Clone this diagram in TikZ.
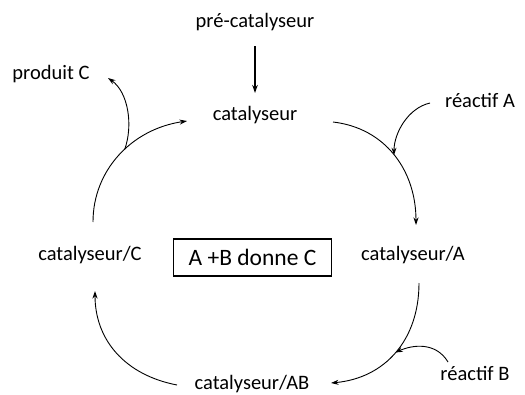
\documentclass[tikz,border=0pt]{standalone}
\usepackage{fontspec}
\setmainfont{Carlito}
\usetikzlibrary{arrows.meta,calc}
\begin{document}
\begin{tikzpicture}[x=1pt,y=-1pt,
  lbl/.style={font=\fontsize{20.5}{23}\selectfont, inner sep=0pt, anchor=center},
  arr/.style={line width=0.9pt, -{Stealth[length=7.5pt,width=5pt]}},
  thickarr/.style={line width=1.6pt, -{Stealth[length=8pt,width=5.5pt]}}]
\useasboundingbox (0,0) rectangle (525,394);
\node[lbl] (pre) at (255,22) {pré-catalyseur};
\node[lbl] (cat) at (255,115) {catalyseur};
\node[lbl] (prodC) at (51,74) {produit C};
\node[lbl] (reacA) at (480,100) {réactif A};
\node[lbl] (catC) at (90,255) {catalyseur/C};
\node[lbl, font=\fontsize{23.5}{26}\selectfont, draw, line width=1.1pt, minimum width=158pt, minimum height=37pt] (box) at (252.5,257.5) {A +B donne C};
\node[lbl] (catA) at (413,255) {catalyseur/A};
\node[lbl] (catAB) at (252,384) {catalyseur/AB};
\node[lbl] (reacB) at (475,373) {réactif B};
% pre-catalyst arrow
\draw[thickarr] ([shift={(0,24)}]pre.center) -- ([shift={(0,-22)}]cat.center);
% cycle arcs
\draw[arr] ([shift={(78,7)}]cat.center) .. controls +(52,6) and +(0,-55) .. ([shift={(3,-30)}]catA.center)
  coordinate[pos=0.5] (ja);
\draw[arr] ([shift={(6,28)}]catA.center) .. controls +(0,57) and +(54,-5) .. ([shift={(79,-1)}]catAB.center)
  coordinate[pos=0.5] (jb);
\draw[arr] ([shift={(-75,1)}]catAB.center) .. controls +(-52,-10) and +(0,49) .. ([shift={(5,36)}]catC.center);
\draw[arr] ([shift={(3,-33)}]catC.center) .. controls +(0,-52) and +(-55,8) .. ([shift={(-68,6)}]cat.center)
  coordinate[pos=0.55] (jc);
% side arrows
\draw[arr] (jc) .. controls +(9,-25) and +(20,14) .. ([shift={(57,4)}]prodC.center);
\draw[arr] ([shift={(-50,3)}]reacA.center) .. controls +(-22,5) and +(0,-22) .. (ja);
\draw[arr] ([shift={(-27,-11)}]reacB.center) .. controls +(-12,-20) and +(18,-8) .. (jb);
\end{tikzpicture}
\end{document}
